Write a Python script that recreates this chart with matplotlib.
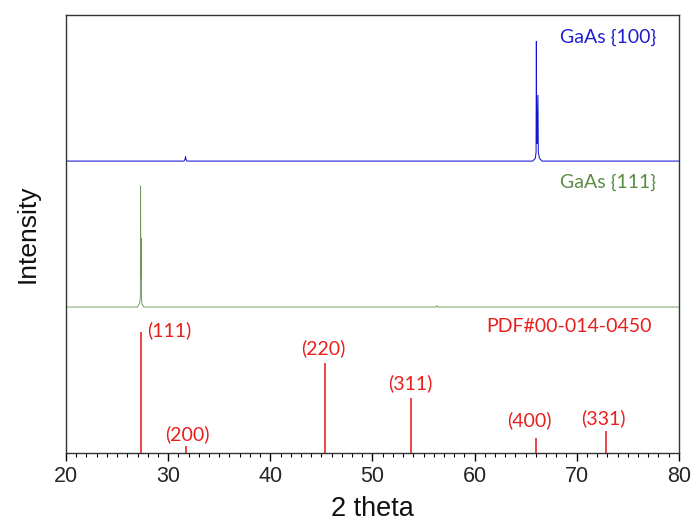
import matplotlib
matplotlib.use("Agg")
import matplotlib.pyplot as plt
from matplotlib.ticker import MultipleLocator

# measured scan {100}: baseline with a small bump at 31.7 and the 400 doublet
gaas100_x = [20, 31.55, 31.65, 31.7, 31.75, 31.85, 65.7, 65.95, 66.02, 66.05, 66.08, 66.13, 66.2, 66.24, 66.35, 66.6, 80]
gaas100_y = [0, 0, 0.01, 0.03, 0.01, 0, 0, 0.02, 0.06, 0.82, 0.2, 0.12, 0.45, 0.06, 0.02, 0, 0]

# measured scan {111}: the 111 doublet and a tiny bump near 56.3
gaas111_x = [20, 27.0, 27.22, 27.28, 27.3, 27.33, 27.37, 27.4, 27.44, 27.6, 56.2, 56.3, 56.4, 80]
gaas111_y = [0, 0, 0.03, 0.07, 0.83, 0.2, 0.47, 0.05, 0.02, 0, 0, 0.01, 0, 0]

# reference card PDF#00-014-0450
pdf_pos = [27.33, 31.7, 45.35, 53.75, 66.05, 72.9]
pdf_int = [0.83, 0.05, 0.62, 0.38, 0.10, 0.15]
pdf_hkl = ["(111)", "(200)", "(220)", "(311)", "(400)", "(331)"]
label_x = [27.95, 31.85, 45.15, 53.75, 65.4, 72.6]
label_y = [0.84, 0.13, 0.72, 0.48, 0.226, 0.24]

offset_100 = 2.0
offset_111 = 1.0

fig = plt.figure(figsize=(6.92, 5.21), dpi=100)
ax = fig.add_axes([0.0954, 0.1305, 0.8856, 0.8405])

ax.plot(gaas100_x, [v + offset_100 for v in gaas100_y], color="#1414d0", lw=0.75)
ax.plot(gaas111_x, [v + offset_111 for v in gaas111_y], color="#6a9a5a", lw=0.65)
ax.vlines(pdf_pos, 0, pdf_int, color="#e8282c", lw=1.2)

ann_font = "Lato"
fs = 14
ax.text(label_x[0], label_y[0], pdf_hkl[0], color="#e8201c", fontsize=fs,
        family=ann_font, ha="left", va="center")
for x, y, s in zip(label_x[1:], label_y[1:], pdf_hkl[1:]):
    ax.text(x, y, s, color="#e8201c", fontsize=fs, family=ann_font,
            ha="center", va="center")
ax.text(69.2, 0.87, "PDF#00-014-0450", color="#e8201c", fontsize=fs,
        family=ann_font, ha="center", va="center")
ax.text(77.8, 2.85, "GaAs {100}", color="#2020d0", fontsize=fs,
        family=ann_font, ha="right", va="center")
ax.text(77.8, 1.856, "GaAs {111}", color="#5b8c46", fontsize=fs,
        family=ann_font, ha="right", va="center")

ax.set_xlim(20, 80)
ax.set_ylim(0, 3)
ax.set_yticks([])
ax.xaxis.set_major_locator(MultipleLocator(10))
ax.xaxis.set_minor_locator(MultipleLocator(1))
ax.tick_params(axis="x", which="major", direction="out", length=6, width=1,
               labelsize=15.5, labelcolor="#262626", pad=3)
ax.tick_params(axis="x", which="minor", direction="out", length=3, width=0.8)
for lab in ax.get_xticklabels():
    lab.set_family("Liberation Sans")

for sp in ax.spines.values():
    sp.set_color("#333333")
    sp.set_linewidth(1.0)

ax.set_xlabel("2 theta", fontsize=19.5, family="Liberation Sans", color="#111111", labelpad=7)
ax.set_ylabel("Intensity", fontsize=19, family="Liberation Sans", color="#111111", labelpad=19)

fig.savefig("out.png", dpi=100)
